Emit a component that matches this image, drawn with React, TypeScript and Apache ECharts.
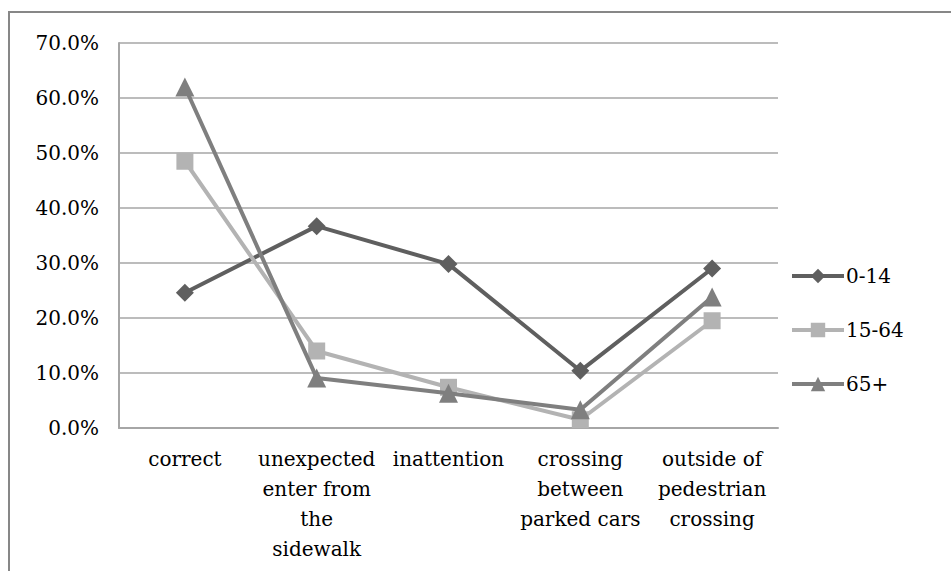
import React, { useEffect, useRef } from "react";
import * as echarts from "echarts";

const categories = [
  "correct",
  "unexpected\nenter from\nthe\nsidewalk",
  "inattention",
  "crossing\nbetween\nparked cars",
  "outside of\npedestrian\ncrossing",
];
const seriesNames = ["0-14", "15-64", "65+"];
const values014 = [0.246, 0.367, 0.298, 0.104, 0.29];
const values1564 = [0.485, 0.14, 0.074, 0.015, 0.195];
const values65 = [0.62, 0.091, 0.063, 0.033, 0.238];
const yTicks = [0, 0.1, 0.2, 0.3, 0.4, 0.5, 0.6, 0.7];

const FONT = "DejaVu Serif";

export default function App() {
  const ref = useRef<HTMLDivElement>(null);
  useEffect(() => {
    if (!ref.current) return;
    const chart = echarts.init(ref.current, undefined, { renderer: "svg" });
    const colors = ["#5f5f5f", "#b3b3b3", "#7f7f7f"];
    const symbols = ["diamond", "rect", "triangle"];
    const sizes = [18, 17, 19];
    const data = [values014, values1564, values65];
    chart.setOption({
      animation: false,
      backgroundColor: "#ffffff",
      textStyle: { fontFamily: FONT },
      graphic: [
        {
          type: "rect",
          shape: { x: 9, y: 12, width: 1000, height: 700 },
          style: { fill: "none", stroke: "#878787", lineWidth: 2 },
          silent: true,
        },
      ],
      grid: { left: 119, right: 173, top: 43, bottom: 143, containLabel: false },
      legend: {
        orient: "vertical",
        left: 785,
        top: 261,
        itemWidth: 52,
        itemHeight: 18,
        itemGap: 34,
        data: seriesNames,
        lineStyle: { width: 4 },
        textStyle: { fontFamily: FONT, fontSize: 20, color: "#000", lineHeight: 18, padding: [0, 0, 0, -3] },
      },
      xAxis: {
        type: "category",
        data: categories,
        boundaryGap: true,
        axisLine: { lineStyle: { color: "#a6a6a6", width: 2 } },
        axisTick: { show: false },
        axisLabel: {
          interval: 0,
          margin: 16,
          fontFamily: FONT,
          fontSize: 20,
          color: "#000",
          lineHeight: 30,
          align: "center",
        },
      },
      yAxis: {
        type: "value",
        min: yTicks[0],
        max: yTicks[yTicks.length - 1],
        interval: 0.1,
        axisLine: { show: true, lineStyle: { color: "#a6a6a6", width: 2 } },
        axisTick: { show: false },
        splitLine: { lineStyle: { color: "#a6a6a6", width: 1.5 } },
        axisLabel: {
          margin: 20,
          fontFamily: FONT,
          fontSize: 20,
          color: "#000",
          formatter: (v: number) => (v * 100).toFixed(1) + "%",
        },
      },
      series: seriesNames.map((name, i) => ({
        name,
        type: "line",
        data: data[i],
        symbol: symbols[i],
        symbolSize: sizes[i],
        showSymbol: true,
        color: colors[i],
        lineStyle: { color: colors[i], width: 4 },
        itemStyle: { color: colors[i] },
        z: 2 + i,
      })),
    });
    return () => chart.dispose();
  }, []);
  return (
    <div
      ref={ref}
      style={{ position: "fixed", left: 0, top: 0, width: 951, height: 571 }}
    />
  );
}
